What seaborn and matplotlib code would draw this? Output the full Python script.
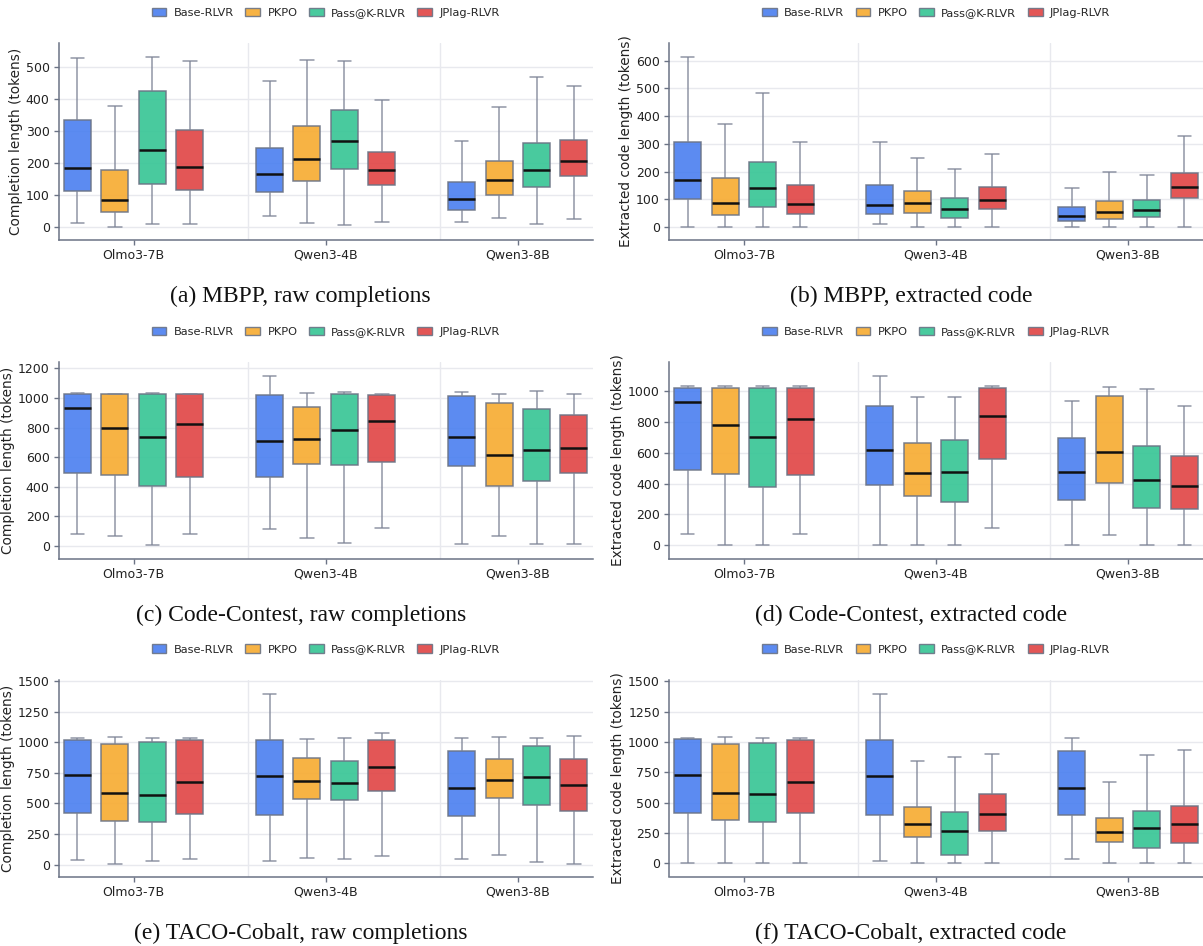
import numpy as np
import pandas as pd
import seaborn as sns
import matplotlib.pyplot as plt
from matplotlib.patches import Patch

models = ['Olmo3-7B', 'Qwen3-4B', 'Qwen3-8B']
methods = ['Base-RLVR', 'PKPO', 'Pass@K-RLVR', 'JPlag-RLVR']
colors = ['#4a7ff0', '#f7ab30', '#35c594', '#e04444']

# five-number summaries: [low whisker, q1, median, q3, high whisker]
# order per panel: Olmo3-7B (4 methods), Qwen3-4B (4), Qwen3-8B (4)
mbpp_raw = [
    [14, 113, 186, 335, 529], [1, 47, 86, 178, 378], [9, 136, 242, 425, 531], [8, 116, 188, 304, 521],
    [33, 109, 167, 248, 456], [12, 145, 214, 315, 524], [6, 181, 268, 365, 521], [17, 130, 180, 236, 398],
    [17, 54, 89, 140, 270], [27, 99, 148, 208, 377], [8, 124, 179, 262, 471], [25, 159, 208, 271, 442],
]
mbpp_code = [
    [1, 102, 169, 305, 611], [1, 44, 86, 175, 373], [1, 72, 139, 235, 482], [1, 47, 82, 151, 307],
    [12, 47, 79, 150, 305], [1, 52, 85, 130, 247], [1, 34, 64, 103, 209], [1, 65, 98, 144, 262],
    [1, 23, 41, 71, 142], [1, 28, 53, 94, 197], [1, 36, 60, 97, 188], [1, 103, 143, 194, 329],
]
cc_raw = [
    [79, 493, 933, 1024, 1033], [63, 477, 800, 1024, 1028], [2, 405, 737, 1024, 1030], [77, 463, 827, 1024, 1028],
    [115, 466, 707, 1019, 1150], [56, 556, 721, 942, 1033], [20, 545, 786, 1024, 1042], [118, 567, 843, 1021, 1028],
    [14, 540, 739, 1012, 1042], [68, 405, 612, 969, 1026], [11, 436, 649, 927, 1049], [14, 490, 660, 884, 1026],
]
cc_code = [
    [74, 487, 929, 1022, 1030], [0, 463, 781, 1019, 1030], [0, 379, 703, 1022, 1030], [71, 459, 820, 1022, 1030],
    [0, 394, 619, 905, 1100], [0, 320, 470, 660, 963], [0, 281, 476, 680, 959], [113, 558, 835, 1022, 1030],
    [0, 297, 478, 697, 937], [65, 403, 608, 968, 1024], [0, 245, 424, 641, 1013], [0, 238, 385, 580, 900],
]
taco_raw = [
    [41, 423, 731, 1023, 1034], [8, 357, 584, 990, 1044], [27, 346, 573, 1004, 1039], [46, 417, 676, 1023, 1036],
    [27, 404, 725, 1017, 1396], [52, 540, 684, 873, 1028], [46, 526, 671, 845, 1036], [71, 603, 796, 1020, 1080],
    [44, 401, 627, 927, 1036], [79, 548, 690, 867, 1047], [22, 488, 720, 971, 1036], [8, 439, 649, 867, 1053],
]
taco_code = [
    [0, 417, 727, 1023, 1034], [0, 354, 581, 984, 1042], [0, 343, 568, 995, 1036], [0, 414, 672, 1020, 1034],
    [22, 400, 721, 1015, 1396], [0, 219, 321, 466, 842], [0, 74, 266, 425, 875], [0, 271, 406, 570, 905],
    [38, 395, 622, 924, 1036], [0, 173, 263, 373, 672], [0, 129, 291, 433, 894], [0, 165, 321, 472, 930],
]

panels = [
    (mbpp_raw, 'Completion length (tokens)', (-40, 575), np.arange(0, 501, 100), '(a) MBPP, raw completions'),
    (mbpp_code, 'Extracted code length (tokens)', (-46, 662), np.arange(0, 601, 100), '(b) MBPP, extracted code'),
    (cc_raw, 'Completion length (tokens)', (-88, 1241), np.arange(0, 1201, 200), '(c) Code-Contest, raw completions'),
    (cc_code, 'Extracted code length (tokens)', (-87, 1186), np.arange(0, 1001, 200), '(d) Code-Contest, extracted code'),
    (taco_raw, 'Completion length (tokens)', (-98, 1510), np.arange(0, 1501, 250), '(e) TACO-Cobalt, raw completions'),
    (taco_code, 'Extracted code length (tokens)', (-107, 1510), np.arange(0, 1501, 250), '(f) TACO-Cobalt, extracted code'),
]

sns.set_style('white')
plt.rcParams['font.family'] = ['DejaVu Sans']

W, H = 1203, 946
fig = plt.figure(figsize=(W / 100, H / 100), dpi=100)

col_left = [58.7, 669]
row_top = [43.3, 362.3, 680]
ax_w, ax_h = 534, 196.5
spine_col = '#6b7385'
line_col = '#6b7385'

for i, (summ, ylabel, ylim, yticks, caption) in enumerate(panels):
    r, c = divmod(i, 2)
    l, t = col_left[c], row_top[r]
    ax = fig.add_axes([l / W, 1 - (t + ax_h) / H, ax_w / W, ax_h / H])

    rows = []
    for k, five in enumerate(summ):
        for v in five:
            rows.append((models[k // 4], methods[k % 4], v))
    df = pd.DataFrame(rows, columns=['model', 'method', 'value'])

    ax.yaxis.grid(True, color='#e8e9ee', linewidth=1.0, zorder=0)
    ax.set_axisbelow(True)
    for xv in [0.595, 1.595]:
        ax.axvline(xv, color='#e8e9ee', linewidth=1.0, zorder=0)

    sns.boxplot(data=df, x='model', y='value', hue='method', order=models, hue_order=methods,
                palette=colors, saturation=1, whis=(0, 100), width=0.78, gap=0.28, showfliers=False,
                linecolor=line_col, linewidth=1.1, legend=False, ax=ax,
                boxprops=dict(alpha=0.9),
                whiskerprops=dict(color='#7d8496', alpha=0.85),
                capprops=dict(color='#7d8496', alpha=0.85),
                medianprops=dict(color='#111111', linewidth=1.8))

    ax.set_xlim(-0.39, 2.39)
    ax.set_ylim(*ylim)
    ax.set_yticks(yticks)
    ax.set_xlabel('')
    ax.set_ylabel(ylabel, fontsize=9.8, color='#222222', labelpad=2)
    ax.tick_params(axis='both', labelsize=9, colors=spine_col, labelcolor='#222222',
                   length=3.5, width=1.0, pad=3, left=True, bottom=True)
    sns.despine(ax=ax)
    for s in ['left', 'bottom']:
        ax.spines[s].set_color(spine_col)
        ax.spines[s].set_linewidth(1.1)

    handles = [Patch(facecolor=col, edgecolor='#6b7385', alpha=0.9, label=m)
               for m, col in zip(methods, colors)]
    ax.legend(handles=handles, loc='center', bbox_to_anchor=(0.5, 1 + 30.5 / ax_h), ncol=4,
              frameon=False, fontsize=8.2, handlelength=1.3, handleheight=0.75,
              columnspacing=1.0, handletextpad=0.65)

    cx = l + ax_w / 2 - 25
    cy = t + 253.5
    fig.text(cx / W, 1 - cy / H, caption, ha='center', va='center',
             family=['Liberation Serif', 'DejaVu Serif'], fontsize=17, color='#111111')

fig.savefig('out.png', dpi=100)
